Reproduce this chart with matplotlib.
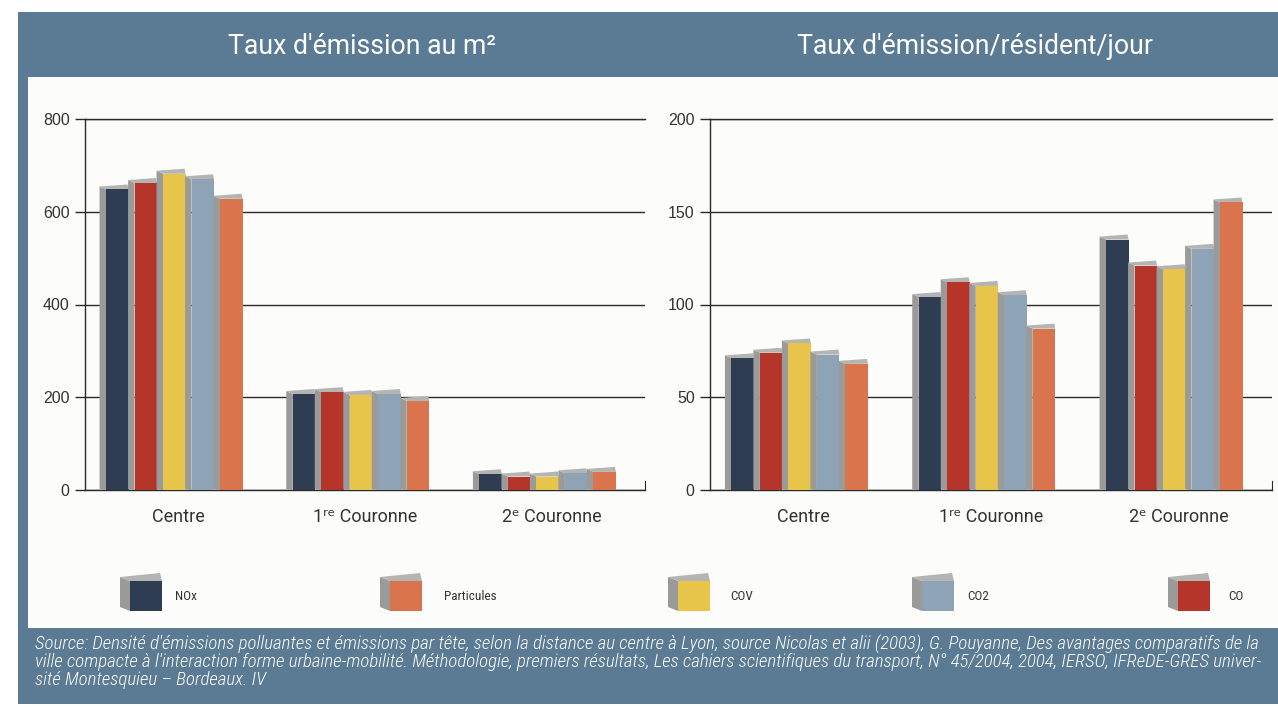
import matplotlib
matplotlib.use("Agg")
import matplotlib.pyplot as plt
from matplotlib.patches import Rectangle, Polygon
from matplotlib import font_manager

# ---------------- data ----------------
categories = ["Centre", "1ʳᵉ Couronne", "2ᵉ Couronne"]
series_names = ["NOx", "CO", "COV", "CO2", "Particules"]
per_m2_nox = [648, 207, 34]
per_m2_co = [662, 211, 29]
per_m2_cov = [682, 205, 29]
per_m2_co2 = [670, 207, 36]
per_m2_part = [628, 192, 39]
per_res_nox = [71, 104, 135]
per_res_co = [74, 112, 121]
per_res_cov = [79, 110, 119]
per_res_co2 = [73, 105, 130]
per_res_part = [68, 87, 155]
left_ticks = [0, 200, 400, 600, 800]
right_ticks = [0, 50, 100, 150, 200]
title_left = "Taux d'émission au m²"
title_right = "Taux d'émission/résident/jour"
legend_order = ["NOx", "Particules", "COV", "CO2", "CO"]
source_lines = [
    "Source: Densité d'émissions polluantes et émissions par tête, selon la distance au centre à Lyon, source Nicolas et alii (2003), G. Pouyanne, Des avantages comparatifs de la",
    "ville compacte à l'interaction forme urbaine-mobilité. Méthodologie, premiers résultats, Les cahiers scientifiques du transport, N° 45/2004, 2004, IERSO, IFReDE-GRES univer-",
    "sité Montesquieu – Bordeaux. IV",
]

colors = {"NOx": "#2f3d52", "CO": "#b5352a", "COV": "#e6c54a",
          "CO2": "#8ea3b6", "Particules": "#d9744c"}
SIDE = "#9a9a98"
TOP = "#b4b4b2"
FRAME = "#5a7b93"
PANEL = "#fcfcfa"
TXT = "#333333"

names = {f.name for f in font_manager.fontManager.ttflist}


def pick(cands):
    for c in cands:
        if c in names:
            return [c, "DejaVu Sans"]
    return ["DejaVu Sans"]


COND = pick(["Roboto Condensed", "Liberation Sans Narrow", "Open Sans Condensed", "Roboto"])
REG = pick(["Roboto", "Lato", "Open Sans"])
NUM = pick(["Liberation Sans", "Roboto"])

W, H = 1278, 707
fig = plt.figure(figsize=(W / 100, H / 100), dpi=100)
fig.patch.set_facecolor("white")

bg = fig.add_axes([0, 0, 1, 1], zorder=0)
bg.set_xlim(0, W)
bg.set_ylim(H, 0)
bg.axis("off")
bg.add_patch(Rectangle((18, 12), W - 18, 692, color=FRAME, lw=0))
bg.add_patch(Rectangle((28, 77), W - 28, 551, color=PANEL, lw=0))

fig.canvas.draw()
r = fig.canvas.get_renderer()


def fit_text(ax, x, y, s, target, **kw):
    t = ax.text(x, y, s, fontsize=10, **kw)
    wpx = t.get_window_extent(renderer=r).width
    t.set_fontsize(10 * target / wpx)
    return t


fit_text(bg, 362, 46, title_left, 269, color="white", family=REG, ha="center", va="center")
fit_text(bg, 975, 46, title_right, 356, color="white", family=REG, ha="center", va="center")

t0 = fit_text(bg, 35, 644, source_lines[0], 1225, color="white", style="italic",
              family=COND, ha="left", va="center", fontweight="light")
fs = t0.get_fontsize()
for k, line in enumerate(source_lines[1:], start=1):
    bg.text(35, 644 + 18 * k, line, color="white", fontsize=fs, style="italic",
            family=COND, ha="left", va="center", fontweight="light")


def draw_chart(ax, data, ymax, ticks, px_w, px_h):
    n = len(categories)
    ax.set_xlim(-0.5, n - 0.5)
    ax.set_ylim(0, ymax)
    ax.set_facecolor("none")
    ax.set_axisbelow(True)
    ppx = px_w / n
    ppy = px_h / ymax
    pitch = 28.5 / ppx
    w = 22.5 / ppx
    off = -4 / ppx
    dx = 6.5 / ppx
    dyl = 3 / ppy
    dyr = 5 / ppy
    for i, name in enumerate(series_names):
        vals = data[name]
        xs = [p + (i - 2) * pitch + off for p in range(n)]
        for x, v in zip(xs, vals):
            x0, x1 = x - w / 2, x + w / 2
            ax.add_patch(Polygon([(x0, 0), (x0, v), (x0 - dx, v + dyl), (x0 - dx, 1 / ppy)],
                                 closed=True, fc=SIDE, ec="none", zorder=3))
            ax.add_patch(Polygon([(x0, v), (x1, v), (x1 - 1 / ppx, v + dyr), (x0 - dx, v + dyl)],
                                 closed=True, fc=TOP, ec="none", zorder=3))
            ax.bar(x, v, width=w, color=colors[name], zorder=3, lw=0)
    ax.set_yticks(ticks)
    ax.set_yticklabels([str(t) for t in ticks], family=NUM, fontsize=11.5, color=TXT)
    ax.set_xticks(range(n))
    ax.set_xticklabels(categories, family=REG, fontsize=13, color=TXT)
    ax.tick_params(axis="y", length=7, width=1, color="#2a2a2a", pad=4)
    ax.tick_params(axis="x", length=0, pad=13)
    ax.yaxis.grid(True, color="#2a2a2a", lw=1)
    for s in ["left", "bottom", "top"]:
        ax.spines[s].set_color("#2a2a2a")
        ax.spines[s].set_linewidth(1)
    ax.spines["right"].set_color("#2a2a2a")
    ax.spines["right"].set_bounds(0, ymax * 0.025)


axL = fig.add_axes([85 / W, (H - 490) / H, 560 / W, 371 / H], zorder=2)
draw_chart(axL, {"NOx": per_m2_nox, "CO": per_m2_co, "COV": per_m2_cov,
                 "CO2": per_m2_co2, "Particules": per_m2_part},
           800, left_ticks, 560, 371)
axR = fig.add_axes([710 / W, (H - 490) / H, 562 / W, 371 / H], zorder=2)
draw_chart(axR, {"NOx": per_res_nox, "CO": per_res_co, "COV": per_res_cov,
                 "CO2": per_res_co2, "Particules": per_res_part},
           200, right_ticks, 562, 371)

leg = fig.add_axes([0, 0, 1, 1], zorder=3)
leg.set_xlim(0, W)
leg.set_ylim(H, 0)
leg.axis("off")
swatch_x = [130, 390, 678, 922, 1178]
label_x = [175, 444, 730, 967, 1228]
for name, sx, lx in zip(legend_order, swatch_x, label_x):
    y0, y1 = 581, 611
    fw = 32
    d = 10
    leg.add_patch(Polygon([(sx, y1), (sx, y0), (sx - d, y0 - 4), (sx - d, y1 - 4)],
                          closed=True, fc=SIDE, ec="none"))
    leg.add_patch(Polygon([(sx, y0), (sx + fw, y0), (sx + fw - 2, y0 - 8), (sx - d, y0 - 4)],
                          closed=True, fc=TOP, ec="none"))
    leg.add_patch(Rectangle((sx, y0), fw, y1 - y0, fc=colors[name], ec="none"))
    leg.text(lx, 596, name, fontsize=9.5, family=COND, color=TXT, ha="left", va="center")

fig.savefig("out.png", dpi=100)
